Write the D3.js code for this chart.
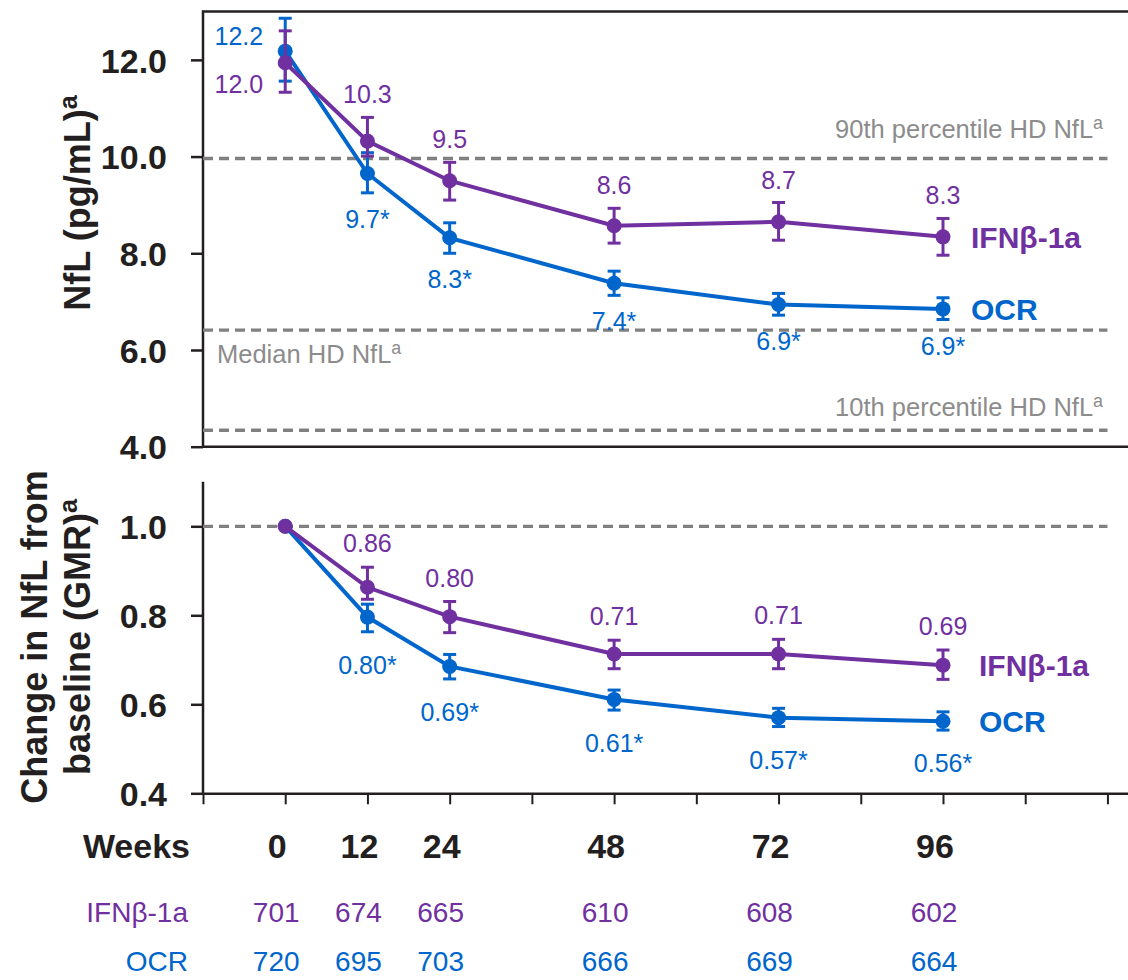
<!DOCTYPE html>
<html>
<head>
<meta charset="UTF-8">
<title>NfL over time</title>
<style>
	body { margin: 0; background: #fff; }
	text { font-family: "Liberation Sans", Arial, sans-serif; }
</style>
</head>
<body>
<div id="chart"></div>
<script src="https://cdn.jsdelivr.net/npm/d3@7/dist/d3.min.js"></script>
<script>
// weeks shown on the x axis
var weeks = [0, 12, 24, 48, 72, 96];
var weekTicks = [-12, 0, 12, 24, 36, 48, 60, 72, 84, 96, 108, 120];

// top panel: NfL (pg/mL), point and 95% CI
var ifnNfl   = [11.94, 10.32, 9.50, 8.57, 8.65, 8.34];
var ifnNflLo = [11.33, 10.01, 9.10, 8.21, 8.27, 7.96];
var ifnNflHi = [12.60, 10.81, 9.88, 8.93, 9.05, 8.72];
var ocrNfl   = [12.18, 9.65, 8.32, 7.38, 6.94, 6.85];
var ocrNflLo = [11.56, 9.25, 8.00, 7.13, 6.72, 6.63];
var ocrNflHi = [12.86, 10.08, 8.63, 7.63, 7.17, 7.08];
var ifnNflText = ["12.0", "10.3", "9.5", "8.6", "8.7", "8.3"];
var ocrNflText = ["12.2", "9.7*", "8.3*", "7.4*", "6.9*", "6.9*"];
var nflTicks = [4, 6, 8, 10, 12];

// healthy donor reference levels
var hdLevels = [9.96, 6.41, 4.34];
var hdText = ["90th percentile HD NfL", "Median HD NfL", "10th percentile HD NfL"];

// bottom panel: GMR vs baseline
var ifnGmr   = [1.0, 0.863, 0.797, 0.713, 0.713, 0.688];
var ifnGmrLo = [null, 0.836, 0.761, 0.680, 0.680, 0.656];
var ifnGmrHi = [null, 0.908, 0.831, 0.744, 0.746, 0.722];
var ocrGmr   = [1.0, 0.796, 0.685, 0.611, 0.570, 0.562];
var ocrGmrLo = [null, 0.763, 0.657, 0.587, 0.550, 0.542];
var ocrGmrHi = [null, 0.825, 0.712, 0.632, 0.591, 0.583];
var ifnGmrText = ["", "0.86", "0.80", "0.71", "0.71", "0.69"];
var ocrGmrText = ["", "0.80*", "0.69*", "0.61*", "0.57*", "0.56*"];
var gmrTicks = [0.4, 0.6, 0.8, 1.0];

// patients at risk
var nIfn = [701, 674, 665, 610, 608, 602];
var nOcr = [720, 695, 703, 666, 669, 664];

var purple = "#7030a0", blue = "#0066cc", dashGrey = "#808080", textGrey = "#8c8c8c", ink = "#231f20";

var width = 1128, height = 980;
var svg = d3.select("#chart").append("svg")
	.attr("width", width)
	.attr("height", height);

var x = d3.scaleLinear().domain([-12, 123]).range([203, 1128]);
var yTop = d3.scaleLinear().domain([4, 13]).range([446.7, 11.5]);
var yBot = d3.scaleLinear().domain([0.4, 1.1]).range([793.3, 481.8]);

// ---- axes ----
function leftAxis(y, ticks) {
	var g = svg.append("g")
		.attr("transform", "translate(" + x.range()[0] + ",0)")
		.call(d3.axisLeft(y).tickValues(ticks).tickSize(12).tickPadding(24).tickSizeOuter(0)
			.tickFormat(d3.format(".1f")));
	g.select(".domain").remove();
	g.selectAll("line").attr("stroke", ink).attr("stroke-width", 2.5);
	g.selectAll("text")
		.attr("font-family", "'Liberation Sans', Arial, sans-serif")
		.attr("font-size", 34).attr("font-weight", "bold").attr("fill", ink)
		.attr("dy", "0.36em");
	return g;
}
leftAxis(yTop, nflTicks);
leftAxis(yBot, gmrTicks);

// top panel frame (right side runs off the page)
svg.append("path")
	.attr("d", "M" + x.range()[1] + "," + yTop.range()[1] + "H" + x.range()[0] + "V" + yTop.range()[0] + "H" + x.range()[1])
	.attr("fill", "none").attr("stroke", ink).attr("stroke-width", 2.5);

// bottom panel axes
svg.append("line")
	.attr("x1", x.range()[0]).attr("x2", x.range()[0])
	.attr("y1", yBot.range()[1]).attr("y2", yBot.range()[0])
	.attr("stroke", ink).attr("stroke-width", 2.5);
var xa = svg.append("g")
	.attr("transform", "translate(0," + yBot.range()[0] + ")")
	.call(d3.axisBottom(x).tickValues(weekTicks).tickSize(11).tickSizeOuter(0).tickFormat(""));
xa.select(".domain").attr("stroke", ink).attr("stroke-width", 2.5);
xa.selectAll("line").attr("stroke", ink).attr("stroke-width", 2);

// ---- reference lines ----
var xEnd = x(120);
svg.selectAll(".hd").data(hdLevels).join("line")
	.attr("x1", x.range()[0]).attr("x2", xEnd)
	.attr("y1", function(d) { return yTop(d); })
	.attr("y2", function(d) { return yTop(d); })
	.attr("stroke", dashGrey).attr("stroke-width", 3.3).attr("stroke-dasharray", "10,6");
svg.append("line")
	.attr("x1", x.range()[0]).attr("x2", xEnd)
	.attr("y1", yBot(1)).attr("y2", yBot(1))
	.attr("stroke", dashGrey).attr("stroke-width", 3.3).attr("stroke-dasharray", "10,6");

function supLabel(sel, txt) {
	sel.text(txt);
	sel.append("tspan").attr("dy", "-0.5em").attr("font-size", "0.7em").text("a");
}
var hdPos = [
	{ x: 1103, dy: -21, anchor: "end" },
	{ x: 217, dy: 33, anchor: "start" },
	{ x: 1103, dy: -14, anchor: "end" }
];
hdLevels.forEach(function(v, i) {
	svg.append("text")
		.attr("x", hdPos[i].x)
		.attr("y", yTop(v) + hdPos[i].dy)
		.attr("text-anchor", hdPos[i].anchor)
		.attr("font-size", 25.5).attr("fill", textGrey)
		.call(supLabel, hdText[i]);
});

// ---- series ----
function drawSeries(y, vals, lo, hi, color) {
	var pts = weeks.map(function(w, i) { return { w: w, v: vals[i], lo: lo[i], hi: hi[i] }; });
	var g = svg.append("g");
	g.append("path").datum(pts)
		.attr("d", d3.line().x(function(d) { return x(d.w); }).y(function(d) { return y(d.v); }))
		.attr("fill", "none").attr("stroke", color).attr("stroke-width", 4);
	var eb = g.selectAll(".eb").data(pts.filter(function(d) { return d.lo != null; })).join("g")
		.attr("stroke", color).attr("stroke-width", 3);
	eb.append("line")
		.attr("x1", function(d) { return x(d.w); }).attr("x2", function(d) { return x(d.w); })
		.attr("y1", function(d) { return y(d.lo); }).attr("y2", function(d) { return y(d.hi); });
	["lo", "hi"].forEach(function(k) {
		eb.append("line")
			.attr("x1", function(d) { return x(d.w) - 6.5; }).attr("x2", function(d) { return x(d.w) + 6.5; })
			.attr("y1", function(d) { return y(d[k]); }).attr("y2", function(d) { return y(d[k]); });
	});
	g.selectAll("circle").data(pts).join("circle")
		.attr("cx", function(d) { return x(d.w); })
		.attr("cy", function(d) { return y(d.v); })
		.attr("r", 7.5).attr("fill", color);
	return pts;
}

function valueLabels(y, pts, texts, color, above, off) {
	svg.append("g").selectAll("text").data(pts).join("text")
		.filter(function(d, i) { return i > 0 && texts[i] !== ""; })
		.attr("x", function(d) { return x(d.w); })
		.attr("y", function(d) { return above ? y(d.hi) - off : y(d.lo) + off; })
		.attr("text-anchor", "middle")
		.attr("font-size", 25).attr("fill", color)
		.text(function(d, i) { return texts[weeks.indexOf(d.w)]; });
}

// OCR first so the IFN markers sit on top where they overlap
var pOcr = drawSeries(yTop, ocrNfl, ocrNflLo, ocrNflHi, blue);
var pIfn = drawSeries(yTop, ifnNfl, ifnNflLo, ifnNflHi, purple);
valueLabels(yTop, pIfn, ifnNflText, purple, true, 14);
valueLabels(yTop, pOcr, ocrNflText, blue, false, 35);
// baseline values sit to the left of the week 0 marker
svg.append("text").attr("x", x(0) - 22).attr("y", yTop(ocrNfl[0]) - 6)
	.attr("text-anchor", "end").attr("font-size", 25).attr("fill", blue).text(ocrNflText[0]);
svg.append("text").attr("x", x(0) - 22).attr("y", yTop(ifnNfl[0]) + 30)
	.attr("text-anchor", "end").attr("font-size", 25).attr("fill", purple).text(ifnNflText[0]);

var gOcr = drawSeries(yBot, ocrGmr, ocrGmrLo, ocrGmrHi, blue);
var gIfn = drawSeries(yBot, ifnGmr, ifnGmrLo, ifnGmrHi, purple);
valueLabels(yBot, gIfn, ifnGmrText, purple, true, 15);
valueLabels(yBot, gOcr, ocrGmrText, blue, false, 42);

// series names at the end of each line
function seriesName(y, v, txt, color, dx) {
	svg.append("text")
		.attr("x", x(96) + dx).attr("y", y(v)).attr("dy", "0.36em")
		.attr("font-size", 30).attr("font-weight", "bold").attr("fill", color)
		.text(txt);
}
seriesName(yTop, ifnNfl[5], "IFNβ-1a", purple, 28);
seriesName(yTop, ocrNfl[5], "OCR", blue, 28);
seriesName(yBot, ifnGmr[5], "IFNβ-1a", purple, 36);
seriesName(yBot, ocrGmr[5], "OCR", blue, 36);

// ---- axis titles ----
svg.append("text")
	.attr("transform", "translate(90,203) rotate(-90)")
	.attr("text-anchor", "middle")
	.attr("font-size", 36).attr("font-weight", "bold").attr("fill", ink)
	.call(supLabel, "NfL (pg/mL)");
svg.append("text")
	.attr("transform", "translate(47,637) rotate(-90)")
	.attr("text-anchor", "middle")
	.attr("font-size", 36).attr("font-weight", "bold").attr("fill", ink)
	.text("Change in NfL from");
svg.append("text")
	.attr("transform", "translate(90,637) rotate(-90)")
	.attr("text-anchor", "middle")
	.attr("font-size", 36).attr("font-weight", "bold").attr("fill", ink)
	.call(supLabel, "baseline (GMR)");

// ---- week labels and patients at risk ----
svg.append("text").attr("x", 190).attr("y", 858).attr("text-anchor", "end")
	.attr("font-size", 34).attr("font-weight", "bold").attr("fill", ink).text("Weeks");
svg.selectAll(".wk").data(weeks).join("text")
	.attr("x", function(d) { return x(d) - 8; }).attr("y", 858)
	.attr("text-anchor", "middle")
	.attr("font-size", 34).attr("font-weight", "bold").attr("fill", ink)
	.text(function(d) { return d; });

function riskRow(yPos, name, counts, color) {
	svg.append("text").attr("x", 188).attr("y", yPos).attr("text-anchor", "end")
		.attr("font-size", 28).attr("fill", color).text(name);
	svg.append("g").selectAll("text").data(counts).join("text")
		.attr("x", function(d, i) { return x(weeks[i]) - 9; }).attr("y", yPos)
		.attr("text-anchor", "middle")
		.attr("font-size", 28).attr("fill", color)
		.text(function(d) { return d; });
}
riskRow(922, "IFNβ-1a", nIfn, purple);
riskRow(971, "OCR", nOcr, blue);
</script>
</body>
</html>
